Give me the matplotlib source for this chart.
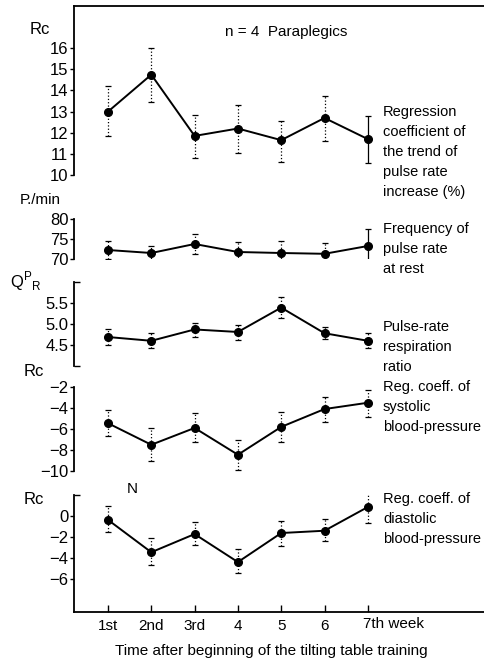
import numpy as np
import matplotlib.pyplot as plt

plt.rcParams['font.family'] = ['Liberation Sans', 'DejaVu Sans']

# ---------- Daten ----------
weeks = [1, 2, 3, 4, 5, 6, 7]
week_labels = ["1st", "2nd", "3rd", "4", "5", "6", "7th week"]

# Regression coefficient of the trend of pulse rate increase (%)
rc_pulse = [13.0, 14.75, 11.85, 12.2, 11.65, 12.7, 11.7]
rc_pulse_lo = [11.85, 13.45, 10.8, 11.05, 10.6, 11.6, 10.55]
rc_pulse_hi = [14.2, 16.0, 12.85, 13.3, 12.55, 13.75, 12.8]

# Frequency of pulse rate at rest (P/min)
freq_rest = [72.25, 71.5, 73.75, 71.75, 71.5, 71.3, 73.25]
freq_rest_lo = [70.0, 69.3, 71.3, 68.75, 68.5, 68.5, 69.25]
freq_rest_hi = [74.5, 73.3, 76.25, 74.25, 74.5, 74.0, 77.5]

# Pulse-rate respiration ratio
ratio = [4.69, 4.6, 4.87, 4.81, 5.39, 4.78, 4.6]
ratio_lo = [4.51, 4.44, 4.69, 4.63, 5.14, 4.64, 4.43]
ratio_hi = [4.87, 4.78, 5.02, 4.98, 5.65, 4.93, 4.78]

# Reg. coeff. of systolic blood-pressure
rc_sys = [-5.45, -7.5, -5.9, -8.45, -5.8, -4.1, -3.5]
rc_sys_lo = [-6.65, -9.0, -7.25, -9.9, -7.2, -5.35, -4.85]
rc_sys_hi = [-4.2, -5.9, -4.45, -7.0, -4.4, -2.95, -2.3]

# Reg. coeff. of diastolic blood-pressure
rc_dia = [-0.38, -3.48, -1.74, -4.42, -1.64, -1.42, 0.85]
rc_dia_lo = [-1.5, -4.67, -2.75, -5.5, -2.84, -2.37, -0.69]
rc_dia_hi = [0.95, -2.1, -0.57, -3.16, -0.47, -0.31, 2.2]

# ---------- Layout ----------
W, H = 485, 664
fig = plt.figure(figsize=(W / 100, H / 100), dpi=100)


def px_axes(top, bottom):
    # Pixelkoordinaten -> Figurenkoordinaten
    return fig.add_axes([74 / W, 1 - bottom / H, 1 - 74 / W, (bottom - top) / H])


panels = [
    # (top px, bottom px, ylim, yticks, mean, lo, hi, solid_last)
    (6, 175, (10, 18), [10, 11, 12, 13, 14, 15, 16], rc_pulse, rc_pulse_lo, rc_pulse_hi, True),
    (219, 259, (70, 80), [70, 75, 80], freq_rest, freq_rest_lo, freq_rest_hi, True),
    (282, 366, (4.0, 6.0), [4.5, 5.0, 5.5], ratio, ratio_lo, ratio_hi, False),
    (387, 471, (-10, -2), [-10, -8, -6, -4, -2], rc_sys, rc_sys_lo, rc_sys_hi, False),
    (495, 612, (-9.2, 2), [-6, -4, -2, 0], rc_dia, rc_dia_lo, rc_dia_hi, False),
]

axes = []
for i, (top, bot, ylim, yt, m, lo, hi, solid_last) in enumerate(panels):
    ax = px_axes(top, bot)
    ax.set_facecolor('none')
    m = np.array(m)
    yerr = [m - np.array(lo), np.array(hi) - m]
    eb = ax.errorbar(weeks, m, yerr=yerr, fmt='-o', color='black', lw=1.4,
                     ms=5.5, elinewidth=0.9, capsize=2.5, capthick=0.9)
    styles = [':'] * len(weeks)
    if solid_last:
        styles[-1] = '-'
    eb[2][0].set_linestyles(styles)
    ax.set_xlim(0.215, 9.706)
    ax.set_ylim(*ylim)
    ax.set_yticks(yt)
    if ylim[0] == 4.0:
        ax.set_yticklabels([f"{v:.1f}" for v in yt])
    ax.set_yticks(list(ylim), minor=True)
    ax.tick_params(axis='y', which='major', direction='out', length=3, width=1,
                   labelsize=12, pad=1)
    ax.tick_params(axis='y', which='minor', direction='in', length=4, width=1)
    for s in ['right', 'top', 'bottom']:
        ax.spines[s].set_visible(False)
    ax.spines['left'].set_linewidth(1.3)
    ax.set_xticks([])
    axes.append(ax)

# oberer Rahmen
axes[0].spines['top'].set_visible(True)
axes[0].spines['top'].set_linewidth(1.3)
axes[0].tick_params(axis='y', which='minor', left=False)
axes[0].set_yticks([10], minor=True)
axes[0].tick_params(axis='y', which='minor', direction='in', length=4, left=True)

# untere Zeitachse
axb = axes[-1]
axb.spines['bottom'].set_visible(True)
axb.spines['bottom'].set_linewidth(1.3)
axb.set_yticks([2], minor=True)
axb.set_xticks(weeks)
axb.set_xticklabels(["1st", "2nd", "3rd", "4", "5", "6", ""])
axb.tick_params(axis='x', direction='in', length=5, width=1, labelsize=11, pad=5)
axb.text(6.9, -0.045, week_labels[-1], transform=axb.get_xaxis_transform(),
         ha='left', va='top', fontsize=11)
fig.text(271 / W, 1 - 651 / H, "Time after beginning of the tilting table training",
         ha='center', va='center', fontsize=11)

# Achsenbeschriftungen
fig.text(40 / W, 1 - 30 / H, "Rc", ha='center', va='center', fontsize=12)
fig.text(40 / W, 1 - 200 / H, "P./min", ha='center', va='center', fontsize=11)
fig.text(26 / W, 1 - 281 / H, r"Q$^\mathregular{P}$$_\mathregular{R}$", ha='center', va='center', fontsize=12)
fig.text(34 / W, 1 - 372 / H, "Rc", ha='center', va='center', fontsize=12)
fig.text(34 / W, 1 - 499 / H, "Rc", ha='center', va='center', fontsize=12)
fig.text(132 / W, 1 - 489 / H, "N", ha='center', va='center', fontsize=11)
fig.text(225 / W, 1 - 32 / H, "n = 4  Paraplegics", ha='left', va='center', fontsize=11)

# rechte Legendentexte
notes = [
    (113, "Regression\ncoefficient of\nthe trend of\npulse rate\nincrease (%)"),
    (230, "Frequency of\npulse rate\nat rest"),
    (328, "Pulse-rate\nrespiration\nratio"),
    (388, "Reg. coeff. of\nsystolic\nblood-pressure"),
    (500, "Reg. coeff. of\ndiastolic\nblood-pressure"),
]
for ytop, txt in notes:
    fig.text(383 / W, 1 - (ytop - 8) / H, txt, ha='left', va='top',
             fontsize=10.5, linespacing=1.55)

fig.savefig("out.png", dpi=100)
